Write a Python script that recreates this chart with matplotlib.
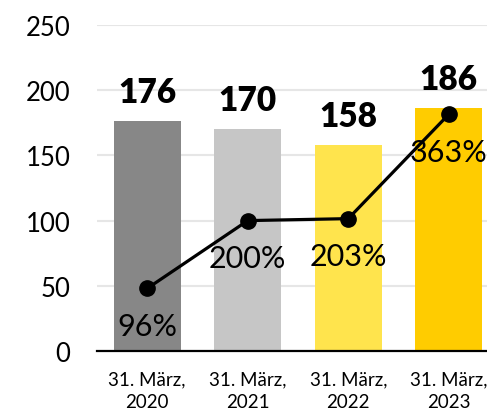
import matplotlib.pyplot as plt

# data
dates = ['31. März,\n2020', '31. März,\n2021', '31. März,\n2022', '31. März,\n2023']
bar_values = [176, 170, 158, 186]
ratio_pct = [96, 200, 203, 363]
bar_colors = ['#878787', '#c6c6c6', '#ffe44d', '#ffcc00']

plt.rcParams['font.family'] = ['Lato', 'DejaVu Sans']

fig = plt.figure(figsize=(4.87, 4.14), dpi=100)
# axes deliberately run past the right edge, like the cropped original
ax = fig.add_axes([97 / 487, 62 / 414, 402 / 487, 326 / 414])

x = range(len(dates))
bars = ax.bar(x, bar_values, width=0.67, color=bar_colors, zorder=2)
ax.set_xlim(-0.5, 3.5)
ax.set_ylim(0, 250)
ax.set_yticks([0, 50, 100, 150, 200, 250])
ax.yaxis.grid(True, color='#e6e6e6', lw=1.5, zorder=0)
ax.set_axisbelow(True)

for s in ['top', 'right', 'left']:
    ax.spines[s].set_visible(False)
ax.spines['bottom'].set_linewidth(1.6)
ax.spines['bottom'].set_color('black')

ax.tick_params(axis='y', length=0, pad=19, labelsize=18.5)
ax.tick_params(axis='x', length=0, pad=14, labelsize=13.5)
ax.set_xticks(list(x))
ax.set_xticklabels(dates, linespacing=1.4)

for b, v in zip(bars, bar_values):
    ax.annotate(str(v), (b.get_x() + b.get_width() / 2, v), xytext=(0, 21),
                textcoords='offset points', ha='center', va='center',
                fontsize=24, fontweight='heavy')

# ratio line on a hidden 0-500 scale
ax2 = ax.twinx()
ax2.set_ylim(0, 500)
ax2.axis('off')
ax2.plot(x, ratio_pct, color='black', lw=2.3, marker='o', markersize=11, zorder=3)
for xi, p in zip(x, ratio_pct):
    ax2.annotate(f'{p}%', (xi, p), xytext=(0, -27), textcoords='offset points',
                 ha='center', va='center', fontsize=22)

fig.savefig('out.png', dpi=100)
